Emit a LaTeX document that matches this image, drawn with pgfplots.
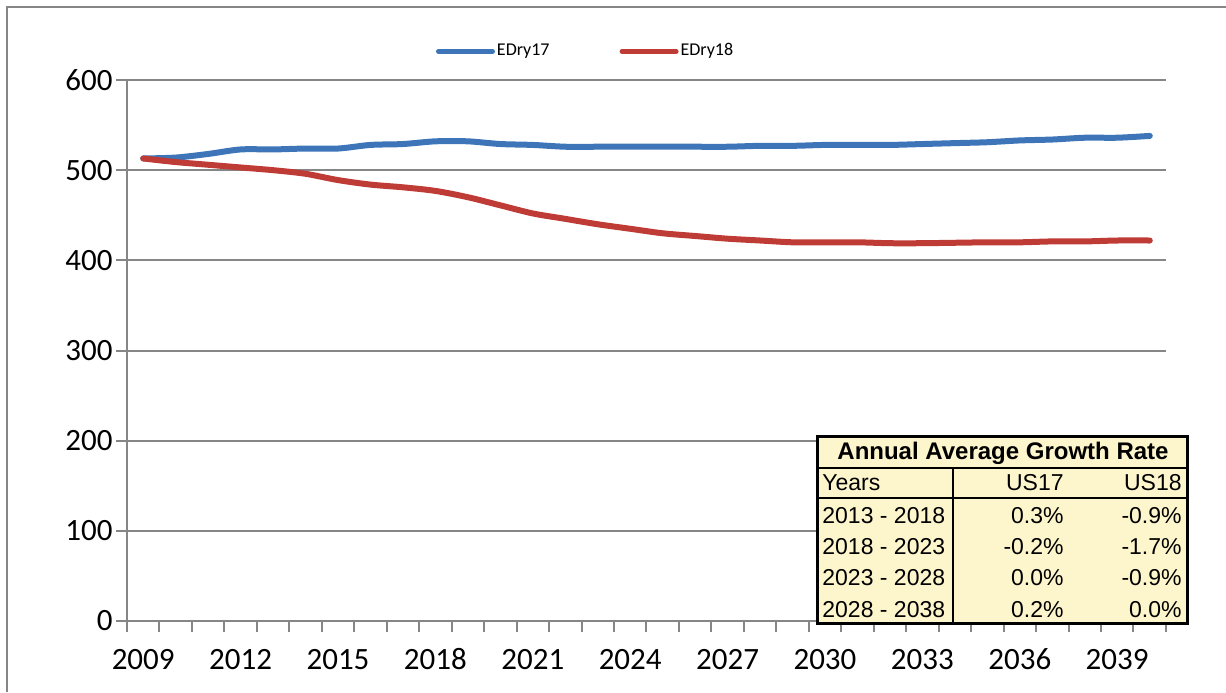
\documentclass[border=0pt]{standalone}
\usepackage{fontspec}
\setmainfont{Carlito}
\newfontfamily\arialfont{Liberation Sans}
\usepackage{pgfplots}
\pgfplotsset{compat=1.18}
\definecolor{blueline}{RGB}{61,117,184}
\definecolor{redline}{RGB}{190,59,54}
\definecolor{gridgray}{RGB}{134,134,134}
\definecolor{tabfill}{RGB}{253,246,204}
\begin{document}
\begin{tikzpicture}
\useasboundingbox (0,0) rectangle (613pt,346pt);
% outer frame (left and top edges visible)
\begin{scope}[x=0.5pt,y=-0.5pt,shift={(0pt,346pt)}]
\draw[gridgray, line width=1pt] (7,692) -- (7,7) -- (1226,7);
\end{scope}
\begin{axis}[
 at={(63.5pt,35.5pt)}, anchor=south west,
 scale only axis, width=519.5pt, height=270.5pt,
 xmin=2008.5, xmax=2040.5, ymin=0, ymax=600,
 axis x line*=bottom, axis y line*=left,
 axis line style={gridgray, line width=1pt, -},
 xtick={2008.5,2009.5,...,2040.5},
 xticklabels={2009,,,2012,,,2015,,,2018,,,2021,,,2024,,,2027,,,2030,,,2033,,,2036,,,2039,,},
 ytick={0,100,...,600},
 tick align=outside,
 major tick length=5.5pt,
 tick style={gridgray, line width=1pt},
 ymajorgrids, grid style={gridgray, line width=1pt},
 tick label style={font=\fontsize{15.5}{18}\selectfont},
 xticklabel style={anchor=north, text height=10pt, text depth=0pt, xshift=8.1pt, yshift=-5pt},
 yticklabel style={inner xsep=1.5pt},
 legend style={at={(0.297,1.053)}, anchor=west, draw=none, fill=none,
   inner sep=0pt, font=\fontsize{9}{11}\selectfont,
   nodes={inner xsep=1pt},
   /tikz/every even column/.append style={column sep=34pt}},
 legend columns=2,
 legend image code/.code={\draw[#1, line width=2.5pt, line cap=round] (0pt,0pt) -- (27pt,0pt);},
 /pgf/number format/.cd, 1000 sep={}, assume math mode=true,
]
\addplot[blueline, line width=3pt, smooth, line cap=round] coordinates {
(2009,513) (2010,514) (2011,518) (2012,523) (2013,523) (2014,524) (2015,524)
(2016,528) (2017,529) (2018,532) (2019,532) (2020,529) (2021,528) (2022,526)
(2023,526) (2024,526) (2025,526) (2026,526) (2027,526) (2028,527) (2029,527)
(2030,528) (2031,528) (2032,528) (2033,529) (2034,530) (2035,531) (2036,533)
(2037,534) (2038,536) (2039,536) (2040,538)};
\addlegendentry{EDry17}
\addplot[redline, line width=3pt, smooth, line cap=round] coordinates {
(2009,513) (2010,509) (2011,506) (2012,503) (2013,500) (2014,496) (2015,489)
(2016,484) (2017,481) (2018,477) (2019,470) (2020,461) (2021,452) (2022,446)
(2023,440) (2024,435) (2025,430) (2026,427) (2027,424) (2028,422) (2029,420)
(2030,420) (2031,420) (2032,419) (2033,419) (2034,419.5) (2035,420) (2036,420)
(2037,421) (2038,421) (2039,422) (2040,422)};
\addlegendentry{EDry18}
\end{axis}
% growth-rate table
\begin{scope}[x=0.5pt,y=-0.5pt,shift={(0pt,346pt)},
  every node/.style={font=\arialfont\fontsize{11.5}{13}\selectfont, inner sep=0pt}]
\fill[tabfill] (817,436) rectangle (1187,623);
\draw[line width=1pt] (817,468) -- (1187,468);
\draw[line width=1pt] (817,498) -- (1187,498);
\draw[line width=1pt] (953,468) -- (953,623);
\draw[line width=1.5pt] (817,436) rectangle (1187,623);
\node[font=\arialfont\bfseries\fontsize{12}{14}\selectfont] at (1003,453) {Annual Average Growth Rate};
\node[anchor=west] at (822,483) {Years};
\node[anchor=east] at (1064,483) {US17};
\node[anchor=east] at (1182,483) {US18};
\node[anchor=west] at (822,516) {2013 - 2018};
\node[anchor=east] at (1064,516) {0.3\%};
\node[anchor=east] at (1182,516) {-0.9\%};
\node[anchor=west] at (822,547) {2018 - 2023};
\node[anchor=east] at (1064,547) {-0.2\%};
\node[anchor=east] at (1182,547) {-1.7\%};
\node[anchor=west] at (822,578) {2023 - 2028};
\node[anchor=east] at (1064,578) {0.0\%};
\node[anchor=east] at (1182,578) {-0.9\%};
\node[anchor=west] at (822,610) {2028 - 2038};
\node[anchor=east] at (1064,610) {0.2\%};
\node[anchor=east] at (1182,610) {0.0\%};
\end{scope}
\end{tikzpicture}
\end{document}
